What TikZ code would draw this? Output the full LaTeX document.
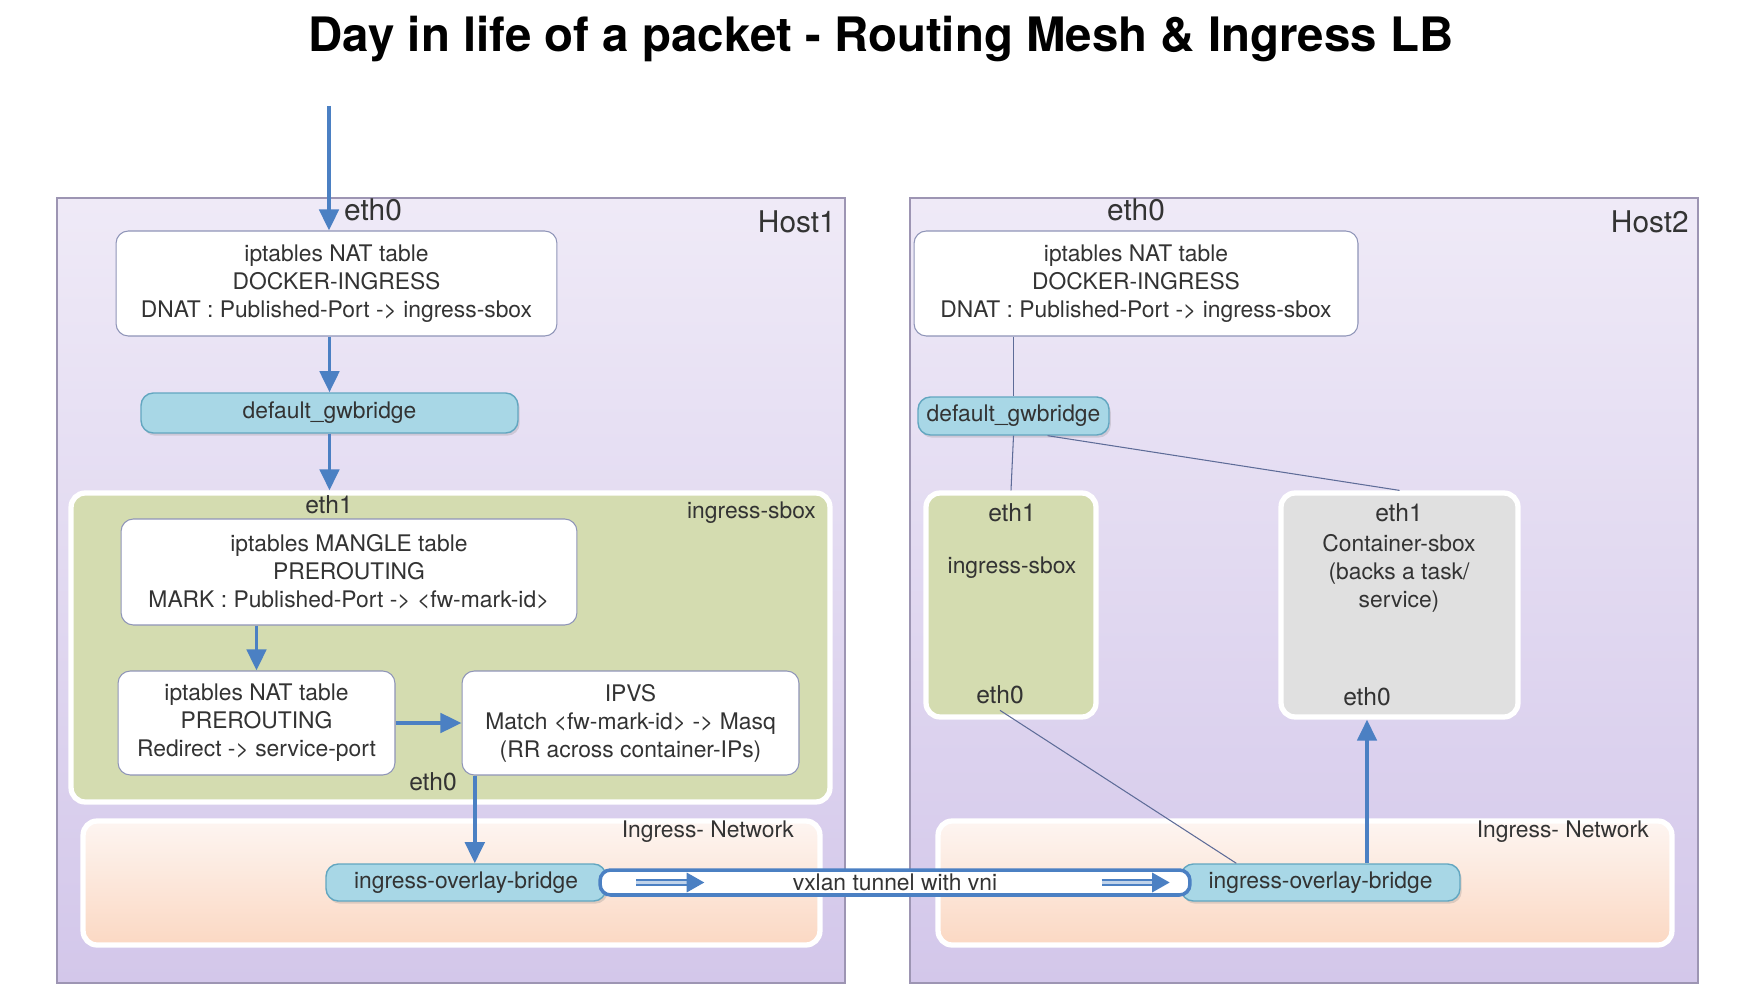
\documentclass[tikz,border=0pt]{standalone}
\usepackage{fontspec}
\setmainfont{TeX Gyre Heros}
\usetikzlibrary{arrows.meta,calc,shadows}

\definecolor{hostlight}{HTML}{EFEAF7}
\definecolor{hostdark}{HTML}{D3C7EA}
\definecolor{hostline}{HTML}{9D95B3}
\definecolor{boxline}{HTML}{8F95B8}
\definecolor{bridgefill}{HTML}{A8D7E6}
\definecolor{bridgeline}{HTML}{62A6C0}
\definecolor{sboxfill}{HTML}{D4DCB0}
\definecolor{contfill}{HTML}{E0E0E0}
\definecolor{netlight}{HTML}{FDF5F1}
\definecolor{netdark}{HTML}{FBD8C3}
\definecolor{flowblue}{HTML}{4B80C3}
\definecolor{linkgray}{HTML}{5E6C98}
\definecolor{txt}{HTML}{333333}

\begin{document}
\begin{tikzpicture}[x=0.02cm,y=-0.02cm,
    font=\fontsize{13}{16}\selectfont, text=txt,
    hostbox/.style={draw=hostline,line width=0.8pt,top color=hostlight,bottom color=hostdark,
      minimum width=15.76cm,minimum height=15.7cm,inner sep=0pt},
    netbox/.style={draw=white,line width=3pt,rounded corners=8pt,top color=netlight,bottom color=netdark,
      minimum height=2.48cm,inner sep=0pt,drop shadow={opacity=0.15,shadow xshift=0.8pt,shadow yshift=-1pt}},
    sbox/.style={draw=white,line width=3pt,rounded corners=8pt,fill=sboxfill,inner sep=0pt,
      drop shadow={opacity=0.15,shadow xshift=0.8pt,shadow yshift=-1pt}},
    table/.style={draw=boxline,line width=0.6pt,rounded corners=7pt,fill=white,align=center,
      minimum height=2.1cm,inner sep=0pt},
    bridge/.style={draw=bridgeline,line width=0.8pt,rounded corners=7pt,fill=bridgefill,inner sep=0pt,
      drop shadow={opacity=0.25,shadow xshift=1pt,shadow yshift=-1.5pt}},
    iface/.style={font=\fontsize{14}{16}\selectfont},
    biglabel/.style={font=\fontsize{17}{20}\selectfont},
    flow/.style={draw=flowblue,line width=2.2pt,-{Triangle[length=12pt,width=11pt]}},
    thinlink/.style={draw=linkgray,line width=0.6pt},
    tunnel/.style={draw=flowblue,line width=2pt,rounded corners=6pt,fill=white,inner sep=0pt,
      minimum width=11.8cm,minimum height=0.5cm},
    tunarrow/.style={draw=flowblue,double=flowblue!35,double distance=1.8pt,line width=1.3pt,
      -{Triangle[length=10pt,width=11pt]}}]

\useasboundingbox (0,0) rectangle (1744,1006);

% Title
\node[font=\fontsize{27}{32}\selectfont\bfseries,text=black] (title) at (881,39)
  {Day in life of a packet - Routing Mesh \& Ingress LB};

% Hosts
\node[hostbox] (host1) at (451,590.5) {};
\node[hostbox] (host2) at (1304,590.5) {};
\node[biglabel,anchor=east] (h1name) at (842,222) {Host1};
\node[biglabel,anchor=east] (h2name) at (1695,222) {Host2};

% Host1
\node[biglabel] (e0h1) at (373,210) {eth0};
\coordinate (in) at (329,106);
\node[table,minimum width=8.82cm] (nat1) at (336.5,283.5)
  {iptables NAT table\\DOCKER-INGRESS\\DNAT : Published-Port -> ingress-sbox};
\node[bridge,minimum width=7.54cm,minimum height=0.8cm] (gw1) at (329.5,413) {default\_gwbridge};

\node[sbox,minimum width=15.18cm,minimum height=6.18cm] (sbox1) at (450.5,647.5) {};
\node[iface] (e1sb1) at (329,505) {eth1};
\node[anchor=east] (sb1name) at (822,513) {ingress-sbox};
\node[table,minimum width=9.12cm,minimum height=2.12cm] (mangle) at (349,572)
  {iptables MANGLE table\\PREROUTING\\MARK : Published-Port -> <fw-mark-id>};
\node[table,minimum width=5.54cm,minimum height=2.08cm] (natpre) at (256.5,723)
  {iptables NAT table\\PREROUTING\\Redirect -> service-port};
\node[table,minimum width=6.74cm,minimum height=2.08cm] (ipvs) at (630.5,723)
  {IPVS\\Match <fw-mark-id> -> Masq\\(RR across container-IPs)};
\node[iface] (e0sb1) at (433,782) {eth0};

\node[netbox,minimum width=14.74cm] (net1) at (451.5,883) {};
\node[anchor=east] (net1name) at (800,832) {Ingress- Network};
\node[bridge,minimum width=5.6cm,minimum height=0.74cm] (ovl1) at (466,882.5) {ingress-overlay-bridge};

% Host2
\node[biglabel] (e0h2) at (1136,210) {eth0};
\node[table,minimum width=8.88cm] (nat2) at (1136,283.5)
  {iptables NAT table\\DOCKER-INGRESS\\DNAT : Published-Port -> ingress-sbox};
\node[bridge,minimum width=3.82cm,minimum height=0.76cm] (gw2) at (1013.5,416) {default\_gwbridge};

\node[sbox,minimum width=3.4cm,minimum height=4.48cm] (isb2) at (1011,605) {};
\node[iface] (e1isb2) at (1012,513) {eth1};
\node (isb2name) at (1012,568) {ingress-sbox};
\node[iface] (e0isb2) at (1000,695) {eth0};

\node[sbox,fill=contfill,minimum width=4.74cm,minimum height=4.48cm] (cont2) at (1399.5,605) {};
\node[iface] (e1cont2) at (1399,513) {eth1};
\node[align=center] (cont2name) at (1399,573) {Container-sbox\\(backs a task/\\service)};
\node[iface] (e0cont2) at (1367,697) {eth0};

\node[netbox,minimum width=14.68cm] (net2) at (1305,883) {};
\node[anchor=east] (net2name) at (1655,832) {Ingress- Network};
\node[bridge,minimum width=5.58cm,minimum height=0.74cm] (ovl2) at (1320.5,882.5) {ingress-overlay-bridge};

% vxlan tunnel between the overlay bridges
\node[tunnel] (tun) at (895,882.5) {vxlan tunnel with vni};
\draw[tunarrow] ($(tun.west)+(38,0)$) -- ++(68,0);
\draw[tunarrow] ($(tun.east)+(-90,0)$) -- ++(68,0);

% Host2 links
\draw[thinlink] (nat2.south -| gw2) -- (gw2.north);
\draw[thinlink] (gw2.south) -- (isb2.north);
\draw[thinlink] (gw2.-30) -- (cont2.north);
\draw[thinlink] (e0isb2.south) -- ($(ovl2.north west)+(56,0)$);

% Packet path
\draw[flow] (in) -- (nat1.north -| in);
\draw[flow] (nat1.south -| gw1) -- (gw1.north);
\draw[flow] (gw1.south) -- (sbox1.north -| gw1);
\draw[flow] (mangle.south -| natpre) -- (natpre.north);
\draw[flow] (natpre.east) -- (ipvs.west);
\draw[flow] ([xshift=5pt]ipvs.south -| ovl1.north) -- ([xshift=5pt]ovl1.north);
\draw[flow] (ovl2.north -| e0cont2) -- (cont2.south -| e0cont2);

\end{tikzpicture}
\end{document}
